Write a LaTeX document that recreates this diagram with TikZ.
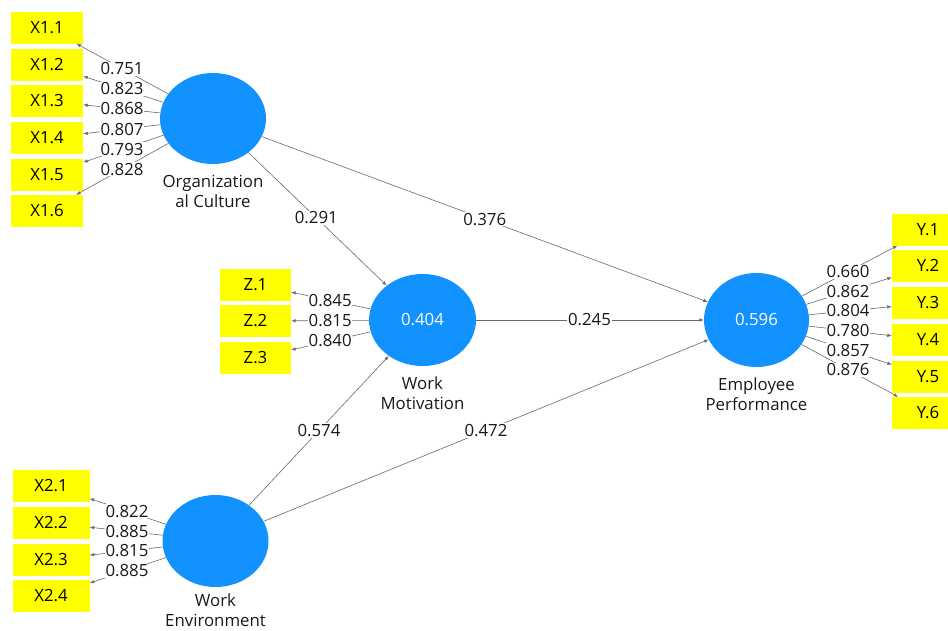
\documentclass[tikz,border=0pt]{standalone}
\usepackage{fontspec}
\setmainfont{Open Sans}
\usetikzlibrary{shapes.geometric,arrows.meta,calc}
\definecolor{lvblue}{RGB}{18,146,255}
\definecolor{indyel}{RGB}{255,255,0}
\definecolor{lncol}{RGB}{105,105,105}
\begin{document}
\begin{tikzpicture}[x=1pt,y=-1pt,
  every node/.style={font=\fontsize{16.8}{20}\selectfont},
  lv/.style={ellipse,fill=lvblue,inner sep=0pt,text=white},
  ind/.style={rectangle,fill=indyel,inner sep=0pt,minimum height=32pt,text=black},
  lbl/.style={fill=white,inner sep=0.8pt,text=black!90},
  lvcap/.style={align=center,text=black!90},
  arr/.style={draw=lncol,line width=0.6pt,-{Latex[length=4.5pt,width=3.5pt]}}]
\useasboundingbox (0,0) rectangle (948,630);
\clip (0,0) rectangle (948,630);
% latent variables
\node[lv,minimum width=106pt,minimum height=91pt] (oc) at (213,118.5) {};
\node[lv,minimum width=107pt,minimum height=92pt] (wm) at (422.5,320) {0.404};
\node[lv,minimum width=105pt,minimum height=94pt] (ep) at (756.5,320) {0.596};
\node[lv,minimum width=106pt,minimum height=92pt] (we) at (215.5,541) {};
\node[lvcap] (ocl) at (213,191) {Organization\\al Culture};
\node[lvcap] (wml) at (422.5,393) {Work\\Motivation};
\node[lvcap] (epl) at (756.5,394) {Employee\\Performance};
\node[lvcap] (wel) at (215.5,610.5) {Work\\Environment};
% indicators
\foreach \i/\y in {1/27.5,2/64.5,3/101,4/138,5/174.5,6/211}
  \node[ind,minimum width=72pt] (x1\i) at (47,\y) {X1.\i};
\foreach \i/\y in {1/485.5,2/523,3/559.5,4/596}
  \node[ind,minimum width=77pt] (x2\i) at (51,\y) {X2.\i};
\foreach \i/\y in {1/284.5,2/321,3/358}
  \node[ind,minimum width=71pt] (z\i) at (255.5,\y) {Z.\i};
\foreach \i/\y in {1/229.5,2/266,3/303,4/340,5/376.5,6/413}
  \node[ind,minimum width=72pt] (y\i) at (928,\y) {Y.\i};
% outer loadings
\foreach \i/\v in {1/0.751,2/0.823,3/0.868,4/0.807,5/0.793,6/0.828}{
  \draw[arr] (oc) -- (x1\i);
  \node[lbl] (lx1\i) at ($(oc)!0.548!(x1\i)$) {\v};}
\foreach \i/\v in {1/0.822,2/0.885,3/0.815,4/0.885}{
  \draw[arr] (we) -- (x2\i);
  \node[lbl] (lx2\i) at ($(we)!0.538!(x2\i)$) {\v};}
\foreach \i/\v in {1/0.845,2/0.815,3/0.840}{
  \draw[arr] (wm) -- (z\i);
  \node[lbl] (lz\i) at ($(wm)!0.553!(z\i)$) {\v};}
\foreach \i/\v in {1/0.660,2/0.862,3/0.804,4/0.780,5/0.857,6/0.876}{
  \draw[arr] (ep) -- (y\i);
  \node[lbl] (ly\i) at ($(ep)!0.534!(y\i)$) {\v};}
% structural paths
\draw[arr] (oc) -- (wm);
\node[lbl] (p1) at ($(oc)!0.493!(wm)$) {0.291};
\draw[arr] (oc) -- (ep);
\node[lbl] (p2) at ($(oc)!0.5!(ep)$) {0.376};
\draw[arr] (wm) -- (ep);
\node[lbl] (p3) at ($(wm)!0.5!(ep)$) {0.245};
\draw[arr] (we) -- (wm);
\node[lbl] (p4) at ($(we)!0.5!(wm)$) {0.574};
\draw[arr] (we) -- (ep);
\node[lbl] (p5) at ($(we)!0.5!(ep)$) {0.472};
\end{tikzpicture}
\end{document}
